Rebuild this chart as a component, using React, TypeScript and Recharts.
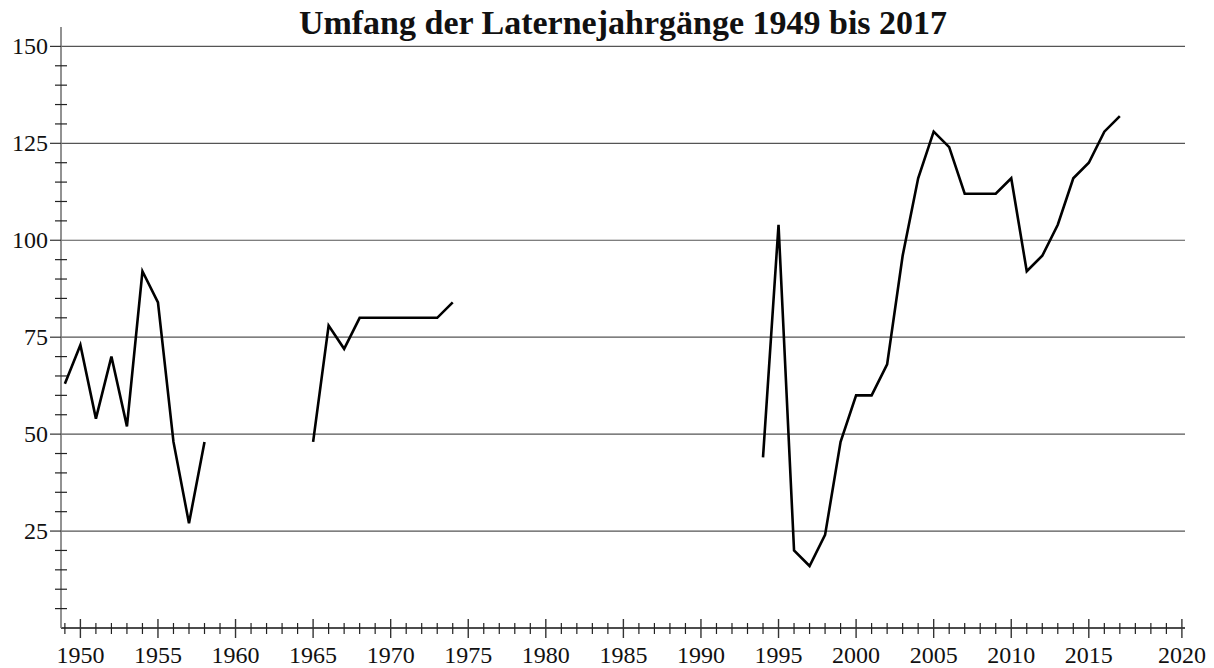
import { LineChart, Line, XAxis, YAxis, ReferenceLine } from "recharts";

const years = [
  1949, 1950, 1951, 1952, 1953, 1954, 1955, 1956, 1957, 1958, 1959, 1960, 1961, 1962, 1963, 1964,
  1965, 1966, 1967, 1968, 1969, 1970, 1971, 1972, 1973, 1974, 1975, 1976, 1977, 1978, 1979, 1980,
  1981, 1982, 1983, 1984, 1985, 1986, 1987, 1988, 1989, 1990, 1991, 1992, 1993, 1994, 1995, 1996,
  1997, 1998, 1999, 2000, 2001, 2002, 2003, 2004, 2005, 2006, 2007, 2008, 2009, 2010, 2011, 2012,
  2013, 2014, 2015, 2016, 2017,
];

// null = kein Jahrgang / keine Angabe
const umfang = [
  63, 73, 54, 70, 52, 92, 84, 48, 27, 48, null, null, null, null, null, null,
  48, 78, 72, 80, 80, 80, 80, 80, 80, 84, null, null, null, null, null, null,
  null, null, null, null, null, null, null, null, null, null, null, null, null, 44, 104, 20,
  16, 24, 48, 60, 60, 68, 96, 116, 128, 124, 112, 112, 112, 116, 92, 96,
  104, 116, 120, 128, 132,
];

const gridValues = [25, 50, 75, 100, 125, 150];
const yTicks = Array.from({ length: 31 }, (_, i) => i * 5);
const xTicks = Array.from({ length: 73 }, (_, i) => 1949 + i);
const xMajorTicks = [1950, 1955, 1960, 1965, 1970, 1975, 1980, 1985, 1990, 1995, 2000, 2005, 2010, 2015, 2021];
const xMajorLabels = ["1950", "1955", "1960", "1965", "1970", "1975", "1980", "1985", "1990", "1995", "2000", "2005", "2010", "2015", "2020"];

const data = years.map((year, i) => ({ year, umfang: umfang[i] }));

const font = "'Liberation Serif', 'Times New Roman', serif";

function XTick(props: any) {
  const { x, y, payload } = props;
  const idx = xMajorTicks.indexOf(payload.value);
  if (idx < 0) {
    return <line x1={x} x2={x} y1={y - 5} y2={y + 6} stroke="#222" strokeWidth={1.2} />;
  }
  return (
    <g>
      <line x1={x} x2={x} y1={y - 9} y2={y + 10} stroke="#333" strokeWidth={1.4} />
      <text x={x} y={y + 35} textAnchor="middle" fontSize={24} fontFamily={font} fill="#111">
        {xMajorLabels[idx]}
      </text>
    </g>
  );
}

function YTick(props: any) {
  const { x, y, payload } = props;
  const v = payload.value;
  if (v === 0) return <g />;
  if (v % 25 !== 0) {
    return <line x1={x - 6} x2={x + 6} y1={y} y2={y} stroke="#222" strokeWidth={1.2} />;
  }
  return (
    <g>
      <line x1={x - 11} x2={x} y1={y} y2={y} stroke="#333" strokeWidth={1.2} />
      <text x={x - 13} y={y + 8} textAnchor="end" fontSize={24} fontFamily={font} fill="#111">
        {v}
      </text>
    </g>
  );
}

export default function App() {
  return (
    <div style={{ position: "absolute", left: 0, top: 0, width: 1214, height: 668, background: "#fff" }}>
      <div
        style={{
          position: "absolute",
          left: 61,
          top: 6,
          width: 1124,
          textAlign: "center",
          fontFamily: font,
          fontWeight: "bold",
          fontSize: 34,
          lineHeight: "34px",
          color: "#111",
        }}
      >
        Umfang der Laternejahrgänge 1949 bis 2017
      </div>
      <LineChart width={1214} height={668} data={data} margin={{ top: 27, right: 29, bottom: 0, left: 0 }}>
        {gridValues.map((v) => (
          <ReferenceLine key={v} y={v} stroke="#555" strokeWidth={1.2} />
        ))}
        <XAxis
          dataKey="year"
          type="number"
          domain={[1948.75, 2021.2]}
          ticks={xTicks}
          interval={0}
          height={40}
          tickSize={0}
          tickMargin={0}
          tickLine={false}
          axisLine={{ stroke: "#111", strokeWidth: 1.4 }}
          tick={XTick}
        />
        <YAxis
          type="number"
          domain={[0, 155]}
          ticks={yTicks}
          interval={0}
          width={61}
          tickSize={0}
          tickMargin={0}
          tickLine={false}
          axisLine={{ stroke: "#777", strokeWidth: 1.6 }}
          tick={YTick}
        />
        <Line
          type="linear"
          dataKey="umfang"
          stroke="#000"
          strokeWidth={2.6}
          dot={false}
          connectNulls={false}
          isAnimationActive={false}
        />
      </LineChart>
    </div>
  );
}
